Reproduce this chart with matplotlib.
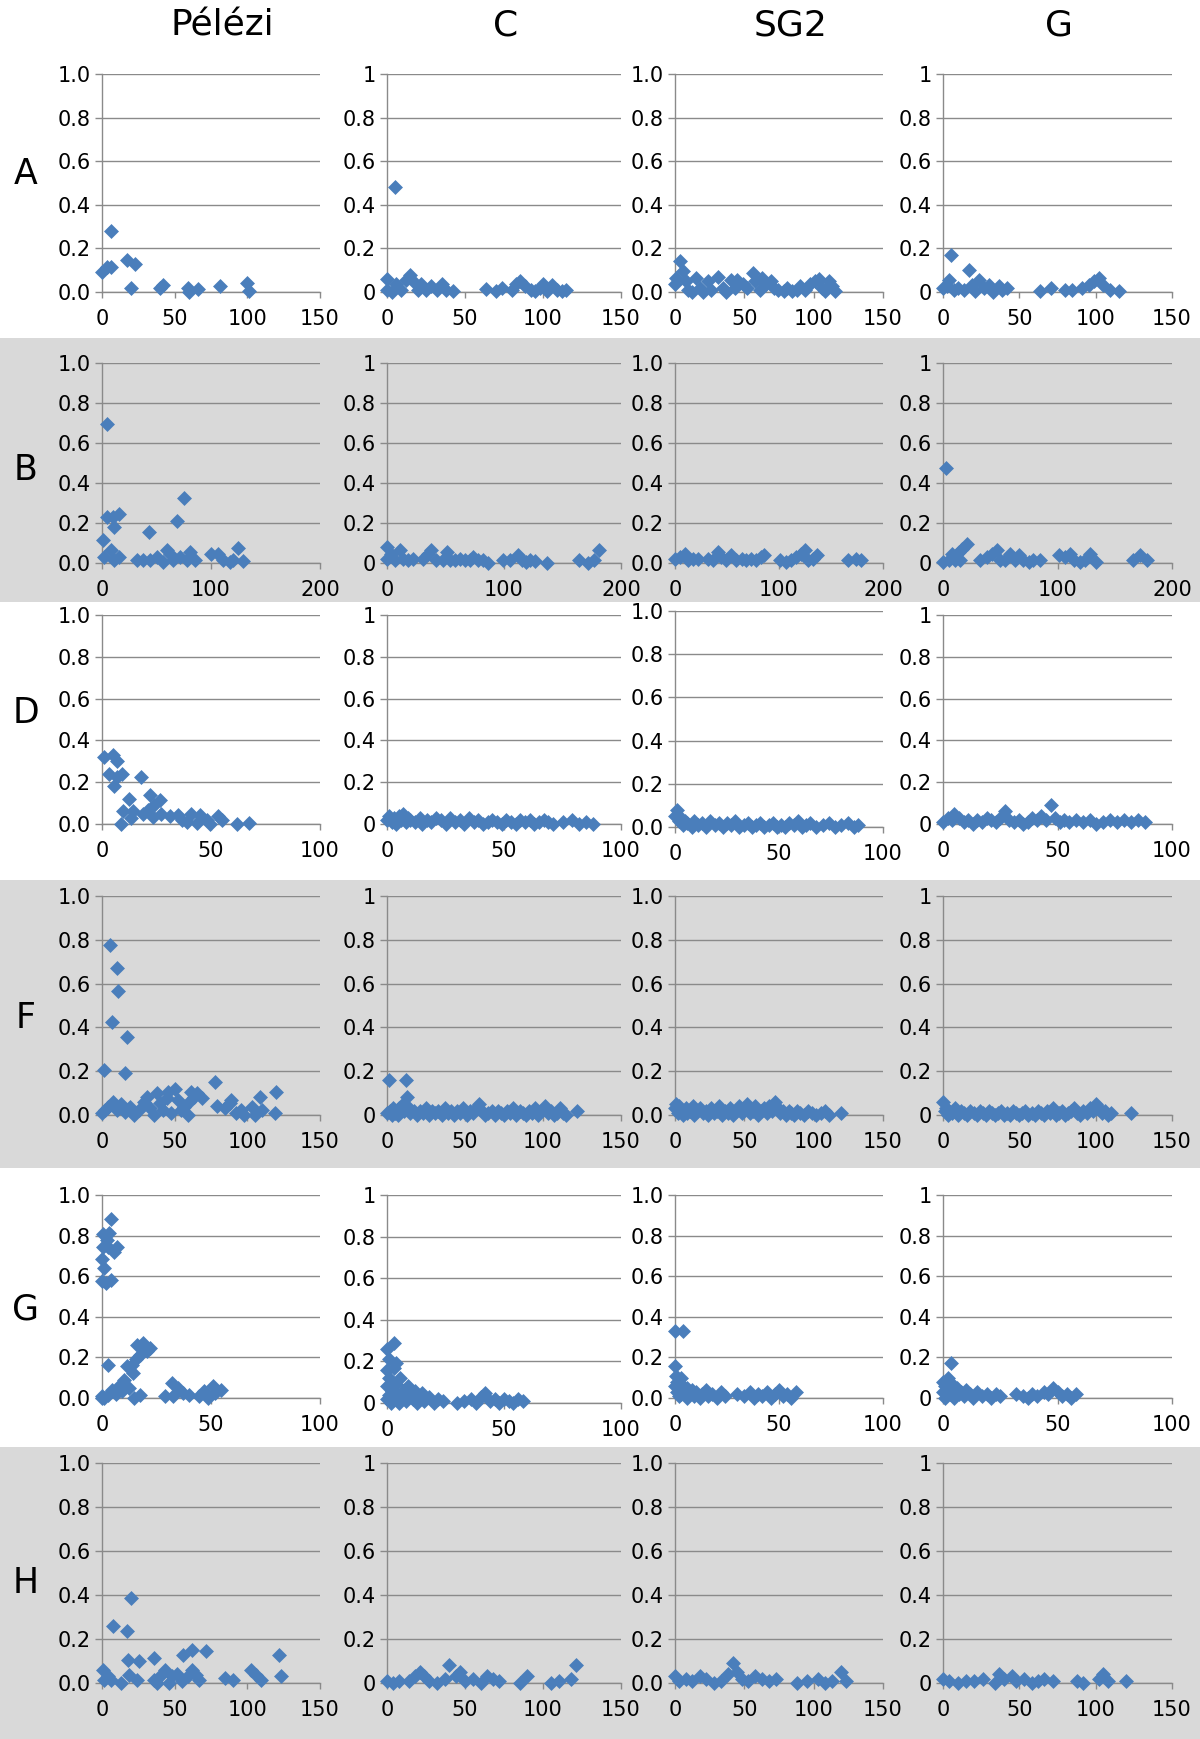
import numpy as np
import matplotlib.pyplot as plt
from matplotlib.patches import Rectangle

# column / row names
col_names = ["Pélézi", "C", "SG2", "G"]
row_names = ["A", "B", "D", "F", "G", "H"]

# x axis maxima and tick steps per row
row_xmax = [150, 200, 100, 150, 100, 150]
row_xstep = [50, 100, 50, 50, 50, 50]

# ---- data, (x, y) pairs ----
a_pelezi = [(0, 0.09), (3.5, 0.115), (6, 0.115), (6, 0.28), (17, 0.145), (23, 0.127), (20, 0.02),
            (40, 0.02), (42, 0.03), (59, 0.02), (60, 0.0), (66, 0.015), (81, 0.028), (100, 0.04), (101, 0.003)]
a_c = [(5, 0.48), (0, 0.06), (0, 0.01), (3, 0.0), (6, 0.035), (9, 0.01), (12, 0.057), (14.6, 0.08), (18, 0.04),
       (20, 0.01), (22, 0.035), (25, 0.01), (28.5, 0.026), (32, 0.01), (35, 0.037), (38, 0.01), (42.5, 0.006),
       (63.5, 0.015), (70, 0.003), (73.6, 0.018), (80, 0.01), (83, 0.035), (85, 0.052), (88.6, 0.026), (92, 0.01),
       (95, 0.003), (98, 0.02), (100, 0.037), (102.6, 0.003), (105.8, 0.034), (109, 0.01), (112, 0.003), (115, 0.01)]
a_sg2 = [(0, 0.035), (1, 0.065), (3.6, 0.14), (6, 0.095), (8, 0.05), (9.5, 0.01), (12, 0.0), (15.5, 0.065),
         (18, 0.02), (20, 0.0), (24, 0.05), (26, 0.01), (31, 0.07), (34.5, 0.02), (37, 0.0), (40.5, 0.055),
         (43, 0.02), (45, 0.055), (49, 0.035), (52, 0.02), (56, 0.085), (58, 0.05), (61, 0.01), (63, 0.065),
         (65.5, 0.035), (69, 0.05), (71.4, 0.02), (74, 0.01), (78.6, 0.003), (81, 0.02), (84.5, 0.003), (88, 0.01),
         (90.5, 0.026), (94, 0.01), (97.6, 0.035), (101, 0.05), (103.6, 0.06), (106, 0.02), (108.3, 0.003),
         (110.7, 0.05), (113, 0.026), (115.5, 0.003)]
a_g = [(5.2, 0.17), (17, 0.10), (2.6, 0.026), (0, 0.02), (3.7, 0.057), (7, 0.01), (10, 0.02), (13.5, 0.01),
       (19, 0.034), (21, 0.003), (23.4, 0.057), (26.6, 0.02), (30, 0.034), (33, 0.0), (36.5, 0.026), (38.6, 0.01),
       (42, 0.02), (63.8, 0.003), (71, 0.018), (80, 0.01), (84.5, 0.01), (91, 0.018), (95.4, 0.034), (98.7, 0.05),
       (102, 0.064), (105, 0.034), (109.6, 0.01), (115, 0.006)]

b_pelezi = [(4.5, 0.694), (0.6, 0.117), (5, 0.23), (10, 0.23), (11, 0.18), (16, 0.247), (2, 0.03), (8, 0.064),
            (11, 0.013), (16, 0.03), (32, 0.017), (38, 0.017), (44, 0.013), (43.5, 0.155), (50, 0.03), (56, 0.005),
            (59.5, 0.064), (62.5, 0.047), (65.5, 0.013), (68.6, 0.21), (75, 0.323), (71.6, 0.03), (77.6, 0.013),
            (80.7, 0.055), (85, 0.013), (100, 0.043), (106, 0.043), (111, 0.013), (117, 0.005), (120, 0.013),
            (124.5, 0.077), (129, 0.008)]
b_c = [(0, 0.08), (0, 0.02), (3.7, 0.047), (6.6, 0.013), (10.9, 0.064), (13.7, 0.02), (18, 0.013), (22, 0.02),
       (31, 0.02), (35, 0.043), (38, 0.064), (42, 0.013), (48, 0.013), (51, 0.055), (53.7, 0.013), (58, 0.013),
       (62, 0.02), (66.6, 0.013), (71, 0.013), (73.7, 0.03), (78, 0.013), (82, 0.013), (86.6, 0.0), (99.4, 0.013),
       (105, 0.013), (112, 0.038), (115, 0.013), (119, 0.005), (122, 0.017), (126.6, 0.01), (136.6, 0.0),
       (163.7, 0.017), (172, 0.0), (176.6, 0.013), (181, 0.064)]
b_sg2 = [(0, 0.02), (4.8, 0.03), (9.6, 0.047), (12.8, 0.013), (17.6, 0.02), (22, 0.02), (32, 0.02), (36.7, 0.013),
         (41.5, 0.055), (44.7, 0.03), (49.5, 0.013), (54, 0.04), (59, 0.013), (64, 0.02), (68.7, 0.013), (73.5, 0.02),
         (78, 0.013), (83, 0.03), (86, 0.038), (100.6, 0.013), (107, 0.005), (112, 0.013), (116.6, 0.03),
         (121, 0.047), (124.6, 0.064), (127.8, 0.013), (132.6, 0.02), (137, 0.038), (166, 0.013), (174, 0.02),
         (179, 0.013)]
b_g = [(3, 0.473), (0, 0.005), (5, 0.013), (7.8, 0.043), (10.7, 0.013), (13.7, 0.055), (16.6, 0.072), (21, 0.097),
       (15, 0.013), (32.5, 0.013), (38, 0.03), (42.7, 0.047), (47, 0.064), (50, 0.013), (54, 0.013), (58.7, 0.043),
       (63, 0.013), (66, 0.038), (70, 0.013), (74.7, 0.005), (79, 0.013), (85, 0.013), (101, 0.038), (106.7, 0.03),
       (111, 0.043), (114, 0.013), (120, 0.005), (124, 0.013), (128.5, 0.043), (134, 0.005), (166, 0.013),
       (172, 0.038), (178, 0.013)]

d_pelezi = [(0.8, 0.322), (5, 0.33), (7, 0.30), (3.4, 0.24), (5.7, 0.18), (7, 0.226), (9, 0.24), (18, 0.223),
            (8.8, 0.0), (9.5, 0.06), (12.3, 0.118), (14, 0.06), (13.4, 0.027), (18.8, 0.05), (21.8, 0.14),
            (26.5, 0.115), (21, 0.067), (24, 0.09), (27, 0.05), (31, 0.038), (35, 0.043), (38.8, 0.011), (41, 0.05),
            (43.4, 0.003), (45, 0.043), (48, 0.02), (49.5, 0.0), (53.4, 0.038), (55, 0.02), (62, 0.0), (67.5, 0.006),
            (23.4, 0.035), (36.5, 0.02)]
d_c = [(0, 0.02), (1, 0.04), (2, 0.01), (3, 0.03), (4, 0.0), (5, 0.04), (6, 0.02), (7, 0.05), (8, 0.01), (9, 0.03),
       (10, 0.02), (12, 0.01), (14, 0.03), (15, 0.0), (17, 0.02), (19, 0.01), (21, 0.03), (23, 0.02), (25, 0.0),
       (27, 0.03), (29, 0.01), (31, 0.02), (33, 0.0), (35, 0.03), (37, 0.01), (39, 0.02), (41, 0.0), (43, 0.01),
       (45, 0.02), (47, 0.01), (49, 0.0), (51, 0.02), (53, 0.01), (55, 0.0), (57, 0.02), (59, 0.01), (61, 0.02),
       (63, 0.0), (65, 0.01), (67, 0.02), (69, 0.01), (71, 0.0), (75, 0.01), (79, 0.02), (82, 0.0), (85, 0.01),
       (88, 0.0)]
d_sg2 = [(0, 0.05), (1, 0.08), (2, 0.03), (3, 0.04), (4, 0.01), (5, 0.03), (6, 0.02), (8, 0.0), (9, 0.03),
         (11, 0.01), (13, 0.02), (15, 0.0), (17, 0.03), (19, 0.01), (21, 0.02), (23, 0.0), (25, 0.02), (27, 0.01),
         (29, 0.03), (31, 0.0), (33, 0.01), (35, 0.02), (37, 0.0), (39, 0.01), (41, 0.02), (43, 0.0), (45, 0.01),
         (47, 0.02), (49, 0.0), (51, 0.01), (53, 0.0), (55, 0.02), (57, 0.01), (59, 0.03), (61, 0.0), (63, 0.01),
         (65, 0.02), (68, 0.0), (71, 0.01), (74, 0.02), (77, 0.0), (80, 0.01), (83, 0.02), (86, 0.0), (88, 0.01)]
d_g = [(0, 0.01), (2, 0.03), (4, 0.02), (5, 0.05), (7, 0.03), (9, 0.01), (11, 0.02), (13, 0.0), (15, 0.02),
       (17, 0.01), (19, 0.03), (21, 0.02), (23, 0.01), (25, 0.03), (27, 0.06), (29, 0.02), (31, 0.01), (33, 0.02),
       (35, 0.0), (37, 0.01), (39, 0.03), (41, 0.02), (43, 0.04), (45, 0.02), (47, 0.09), (49, 0.03), (51, 0.01),
       (53, 0.02), (55, 0.01), (58, 0.02), (61, 0.01), (64, 0.02), (67, 0.0), (70, 0.01), (73, 0.02), (76, 0.01),
       (79, 0.02), (82, 0.01), (85, 0.02), (88, 0.01)]

f_pelezi = [(5.5, 0.775), (10, 0.673), (11, 0.565), (6.7, 0.425), (17.3, 0.354), (1.5, 0.205), (16, 0.193),
            (0, 0.008), (2.2, 0.023), (4.4, 0.038), (7.8, 0.06), (10, 0.023), (13.3, 0.05), (15.5, 0.015),
            (19, 0.038), (22, 0.0), (25.5, 0.023), (28.9, 0.06), (31, 0.083), (33, 0.03), (35.5, 0.0), (37.8, 0.1),
            (40, 0.053), (42, 0.023), (44.4, 0.076), (45.5, 0.106), (47.8, 0.008), (50, 0.117), (52, 0.068),
            (54.4, 0.023), (56.7, 0.038), (59, 0.0), (60, 0.06), (61, 0.106), (63.3, 0.083), (65.5, 0.1),
            (68.9, 0.076), (77.8, 0.152), (79, 0.041), (84.4, 0.03), (87.8, 0.053), (89, 0.068), (92, 0.008),
            (95.5, 0.023), (97.8, 0.0), (103, 0.038), (105.5, 0.0), (109, 0.083), (110, 0.023), (119, 0.008),
            (120, 0.106)]
f_c = [(0, 0.01), (1, 0.16), (2, 0.02), (3, 0.0), (4, 0.03), (5, 0.01), (6, 0.02), (7, 0.0), (8, 0.03), (10, 0.05),
       (11, 0.02), (12, 0.16), (13, 0.08), (14, 0.03), (15, 0.01), (17, 0.02), (19, 0.0), (21, 0.02), (23, 0.01),
       (25, 0.03), (27, 0.0), (29, 0.02), (31, 0.01), (33, 0.02), (35, 0.0), (37, 0.03), (39, 0.01), (41, 0.02),
       (43, 0.0), (45, 0.02), (47, 0.01), (49, 0.03), (51, 0.0), (53, 0.02), (55, 0.01), (57, 0.03), (59, 0.05),
       (61, 0.02), (63, 0.0), (65, 0.01), (67, 0.02), (69, 0.0), (71, 0.02), (73, 0.01), (75, 0.0), (77, 0.02),
       (79, 0.01), (81, 0.03), (83, 0.0), (85, 0.02), (87, 0.01), (89, 0.0), (91, 0.02), (93, 0.01), (95, 0.03),
       (97, 0.0), (99, 0.02), (101, 0.04), (103, 0.01), (105, 0.02), (107, 0.0), (109, 0.01), (111, 0.03),
       (113, 0.01), (115, 0.0), (122, 0.02)]
f_sg2 = [(0, 0.03), (1, 0.05), (2, 0.01), (3, 0.04), (5, 0.02), (6, 0.0), (8, 0.03), (9, 0.01), (11, 0.02),
         (13, 0.04), (14, 0.0), (16, 0.02), (18, 0.03), (20, 0.01), (22, 0.02), (24, 0.0), (26, 0.03), (28, 0.01),
         (30, 0.02), (32, 0.04), (34, 0.0), (36, 0.02), (38, 0.01), (40, 0.03), (42, 0.0), (44, 0.02), (46, 0.04),
         (48, 0.01), (50, 0.03), (52, 0.05), (54, 0.01), (56, 0.02), (58, 0.04), (60, 0.0), (62, 0.02), (64, 0.03),
         (66, 0.01), (68, 0.04), (70, 0.02), (72, 0.06), (74, 0.03), (76, 0.01), (78, 0.02), (80, 0.0), (82, 0.02),
         (84, 0.01), (86, 0.0), (88, 0.02), (90, 0.01), (93, 0.0), (96, 0.02), (99, 0.01), (102, 0.0), (105, 0.01),
         (108, 0.02), (111, 0.0), (120, 0.01)]
f_g = [(0, 0.06), (1, 0.02), (2, 0.03), (3, 0.0), (4, 0.02), (6, 0.01), (8, 0.03), (10, 0.0), (12, 0.02),
       (14, 0.01), (16, 0.0), (18, 0.02), (20, 0.01), (22, 0.0), (24, 0.02), (26, 0.01), (28, 0.0), (30, 0.02),
       (32, 0.01), (34, 0.0), (36, 0.01), (38, 0.02), (40, 0.0), (42, 0.01), (44, 0.0), (46, 0.02), (48, 0.01),
       (50, 0.0), (52, 0.01), (54, 0.02), (56, 0.0), (58, 0.01), (60, 0.0), (62, 0.02), (64, 0.01), (66, 0.0),
       (68, 0.02), (70, 0.01), (72, 0.03), (74, 0.0), (76, 0.01), (78, 0.02), (80, 0.0), (82, 0.01), (84, 0.02),
       (86, 0.03), (88, 0.01), (90, 0.0), (92, 0.02), (94, 0.01), (96, 0.03), (98, 0.02), (100, 0.05), (102, 0.03),
       (104, 0.01), (106, 0.02), (108, 0.0), (110, 0.01), (123, 0.01)]

g_pelezi = [(4, 0.88), (0.3, 0.81), (2.3, 0.78), (3.3, 0.815), (0.3, 0.746), (2.6, 0.746), (7, 0.746), (5.6, 0.72),
            (0, 0.684), (1, 0.64), (0, 0.574), (1.8, 0.566), (4, 0.582), (2.6, 0.164), (0, 0.0), (0, 0.008),
            (1, 0.0), (2.6, 0.016), (4.8, 0.04), (6.3, 0.02), (7.8, 0.057), (9.3, 0.033), (10, 0.09), (12.3, 0.05),
            (11.6, 0.156), (13.8, 0.164), (14.3, 0.123), (15.4, 0.19), (16, 0.262), (18.4, 0.246), (19, 0.27),
            (20.6, 0.23), (22, 0.246), (17.6, 0.213), (14.6, 0.0), (17.6, 0.016), (29, 0.008), (32, 0.074),
            (32.7, 0.008), (35, 0.05), (37, 0.025), (40, 0.016), (44.7, 0.008), (47, 0.033), (48.5, 0.0),
            (50.7, 0.057), (52, 0.025), (54.5, 0.04)]
g_c = [(0, 0.26), (0, 0.16), (0, 0.08), (0, 0.02), (1, 0.21), (1, 0.12), (1, 0.04), (1.5, 0.0), (2, 0.1), (2, 0.06),
       (3, 0.29), (3, 0.17), (3, 0.02), (4, 0.19), (4, 0.09), (4, 0.05), (5, 0.0), (5.5, 0.12), (6, 0.03),
       (7, 0.06), (8, 0.01), (9, 0.08), (10, 0.04), (11, 0.02), (12, 0.06), (13, 0.0), (14, 0.03), (15, 0.05),
       (16, 0.01), (18, 0.03), (20, 0.0), (22, 0.02), (24, 0.01), (30, 0.0), (33, 0.01), (36, 0.02), (38, 0.0),
       (40, 0.03), (42, 0.05), (44, 0.01), (46, 0.02), (48, 0.0), (50, 0.02), (52, 0.01), (54, 0.0), (56, 0.02),
       (58, 0.01)]
g_sg2 = [(0, 0.33), (4, 0.33), (0, 0.16), (0.5, 0.11), (0, 0.06), (1, 0.03), (1, 0.08), (2, 0.01), (2, 0.05),
         (3, 0.1), (3, 0.02), (4, 0.06), (5, 0.03), (6, 0.0), (6, 0.05), (7, 0.02), (8, 0.04), (9, 0.01), (10, 0.03),
         (12, 0.0), (13, 0.02), (15, 0.04), (16, 0.01), (18, 0.02), (20, 0.0), (22, 0.03), (24, 0.01), (30, 0.02),
         (33, 0.01), (36, 0.03), (38, 0.0), (40, 0.02), (42, 0.01), (44, 0.03), (46, 0.0), (48, 0.02), (50, 0.04),
         (52, 0.01), (54, 0.02), (56, 0.0), (58, 0.03)]
g_g = [(0, 0.08), (0, 0.03), (1, 0.06), (1, 0.0), (2, 0.1), (2, 0.04), (3.5, 0.17), (3, 0.02), (4, 0.07), (5, 0.04),
       (5, 0.0), (6, 0.05), (7, 0.02), (8, 0.03), (9, 0.01), (10, 0.04), (12, 0.02), (13, 0.0), (15, 0.03),
       (17, 0.01), (19, 0.02), (21, 0.0), (23, 0.02), (25, 0.01), (32, 0.02), (35, 0.01), (37, 0.0), (39, 0.02),
       (41, 0.01), (44, 0.03), (46, 0.02), (48, 0.05), (50, 0.03), (52, 0.01), (54, 0.02), (56, 0.0), (58, 0.02)]

h_pelezi = [(19.8, 0.386), (7.3, 0.26), (17.5, 0.238), (18, 0.106), (25.5, 0.098), (36, 0.114), (56, 0.129),
            (62, 0.152), (71.4, 0.144), (122, 0.126), (0.5, 0.06), (1.6, 0.015), (3.9, 0.03), (6, 0.015), (13, 0.0),
            (18.6, 0.038), (24, 0.015), (35.7, 0.015), (38, 0.0), (40, 0.03), (43.6, 0.06), (46, 0.0), (48, 0.03),
            (51.6, 0.042), (55, 0.008), (59.5, 0.03), (62, 0.06), (65, 0.038), (66.4, 0.015), (84.5, 0.023),
            (90, 0.015), (102.7, 0.06), (106, 0.038), (109.5, 0.015), (123, 0.03)]
h_c = [(0, 0.01), (4, 0.0), (8, 0.01), (14, 0.01), (18, 0.03), (21, 0.05), (24, 0.03), (27, 0.01), (32, 0.0),
       (37, 0.02), (40, 0.08), (44, 0.03), (47, 0.05), (50, 0.01), (55, 0.02), (60, 0.0), (64, 0.03), (68, 0.02),
       (72, 0.01), (85, 0.0), (90, 0.03), (105, 0.0), (110, 0.01), (118, 0.02), (121, 0.08)]
h_sg2 = [(0, 0.03), (3, 0.01), (8, 0.02), (12, 0.01), (18, 0.03), (22, 0.02), (28, 0.0), (33, 0.01), (38, 0.04),
         (42, 0.09), (45, 0.05), (48, 0.02), (53, 0.01), (58, 0.03), (63, 0.02), (68, 0.01), (73, 0.02), (88, 0.0),
         (95, 0.01), (103, 0.02), (108, 0.0), (113, 0.01), (120, 0.05), (123, 0.01)]
h_g = [(0, 0.02), (4, 0.01), (10, 0.0), (15, 0.01), (20, 0.01), (26, 0.02), (34, 0.0), (37, 0.04), (40, 0.02),
       (45, 0.03), (48, 0.01), (53, 0.02), (58, 0.0), (62, 0.01), (66, 0.02), (72, 0.01), (88, 0.01), (92, 0.0),
       (102, 0.02), (105, 0.04), (108, 0.01), (120, 0.01)]

panels = [
    [a_pelezi, a_c, a_sg2, a_g],
    [b_pelezi, b_c, b_sg2, b_g],
    [d_pelezi, d_c, d_sg2, d_g],
    [f_pelezi, f_c, f_sg2, f_g],
    [g_pelezi, g_c, g_sg2, g_g],
    [h_pelezi, h_c, h_sg2, h_g],
]

# ---- layout (pixel positions in the 1200x1739 picture) ----
W, H = 1200, 1739
col_px = [(102, 320), (387, 621), (675, 883), (943, 1172)]
row_px = [(74, 292), (363, 563), (615, 824), (896, 1115), (1195, 1398), (1463, 1683)]
row_label_y = [174, 470, 713, 1018, 1309, 1583]
col_title_x = [222, 506, 791, 1059]
bands = [(338, 602), (880, 1168), (1447, 1739)]

blue = "#4A7EBB"
gridc = "#8a8a8a"

fig = plt.figure(figsize=(12, 17.39), dpi=100)

for y0, y1 in bands:
    fig.add_artist(Rectangle((0, 1 - y1 / H), 1, (y1 - y0) / H, transform=fig.transFigure,
                             facecolor="#d9d9d9", edgecolor="none", zorder=-5))

yt = [0, 0.2, 0.4, 0.6, 0.8, 1.0]
for i in range(6):
    for j in range(4):
        x0, x1 = col_px[j]
        top, bot = row_px[i]
        if i == 2 and j == 2:
            top, bot = 611, 827
        if i == 4 and j == 1:
            bot = 1403
        ax = fig.add_axes([x0 / W, 1 - bot / H, (x1 - x0) / W, (bot - top) / H])
        ax.set_facecolor("none")
        pts = np.array(panels[i][j], dtype=float)
        ax.scatter(pts[:, 0], pts[:, 1], marker="D", s=58, color=blue, linewidths=0,
                   zorder=3, clip_on=False)
        ax.set_xlim(0, row_xmax[i])
        ax.set_ylim(0, 1)
        ax.set_xticks(np.arange(0, row_xmax[i] + 1, row_xstep[i]))
        ax.set_yticks(yt)
        if j in (0, 2):
            ax.set_yticklabels(["%.1f" % v for v in yt])
        else:
            ax.set_yticklabels(["0", "0.2", "0.4", "0.6", "0.8", "1"])
        for s in ["top", "right"]:
            ax.spines[s].set_visible(False)
        for s in ["left", "bottom"]:
            ax.spines[s].set_color(gridc)
            ax.spines[s].set_linewidth(1.0)
        ax.yaxis.grid(True, color=gridc, linewidth=1.0)
        ax.set_axisbelow(True)
        ax.tick_params(axis="y", direction="out", length=5, width=1, color=gridc,
                       labelsize=15, pad=3)
        ax.tick_params(axis="x", direction="out", length=4, width=1, color=gridc,
                       labelsize=15, pad=8)

for j, name in enumerate(col_names):
    fig.text(col_title_x[j] / W, 1 - 25 / H, name, fontsize=26, ha="center", va="center")
for i, name in enumerate(row_names):
    fig.text(26 / W, 1 - row_label_y[i] / H, name, fontsize=25, ha="center", va="center")

fig.savefig("out.png", dpi=100)
